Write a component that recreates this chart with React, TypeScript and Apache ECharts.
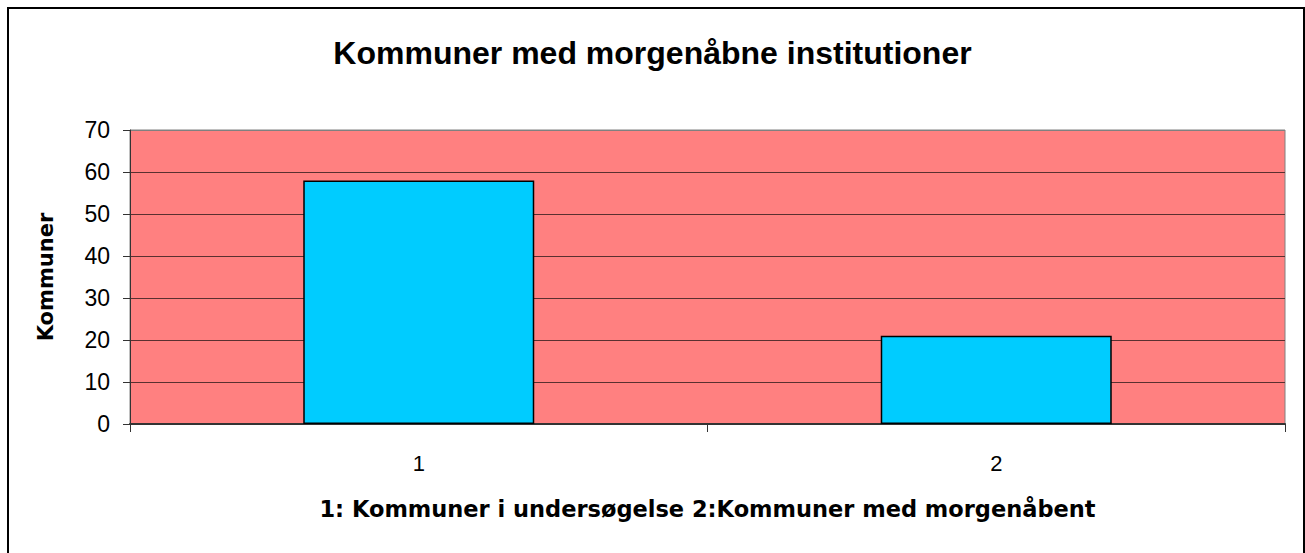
import React, { useEffect, useRef } from "react";
import * as echarts from "echarts";

const titleText = "Kommuner med morgenåbne institutioner";
const categories = ["1", "2"];
const values = [58, 21];
const yAxisName = "Kommuner";
const xAxisName = "1: Kommuner i undersøgelse 2:Kommuner med morgenåbent";

export default function App() {
  const ref = useRef<HTMLDivElement>(null);
  useEffect(() => {
    if (!ref.current) return;
    const chart = echarts.init(ref.current, null, { renderer: "svg" });
    const font = "'Liberation Sans', Arial, sans-serif";
    const wideFont = "'DejaVu Sans', 'Liberation Sans', sans-serif";
    chart.setOption({
      animation: false,
      backgroundColor: "#ffffff",
      textStyle: { fontFamily: font },
      title: {
        text: titleText,
        left: "center",
        top: 32,
        textStyle: { fontFamily: font, fontSize: 32, fontWeight: "bold", color: "#000" },
      },
      graphic: [
        {
          type: "rect",
          shape: { x: 8, y: 8, width: 1296, height: 600 },
          style: { fill: "none", stroke: "#000", lineWidth: 2 },
          silent: true,
          z: 100,
        },
      ],
      grid: {
        left: 130,
        right: 20,
        top: 130,
        bottom: 129,
        show: true,
        backgroundColor: "#FF8080",
        borderColor: "#808080",
        borderWidth: 1,
      },
      xAxis: {
        type: "category",
        data: categories,
        name: xAxisName,
        nameLocation: "middle",
        nameGap: 73,
        nameTextStyle: { fontFamily: wideFont, fontSize: 22.5, fontWeight: "bold", color: "#000" },
        axisLine: { lineStyle: { color: "#333", width: 2 } },
        axisTick: { show: true, length: 8, lineStyle: { color: "#333", width: 1 }, alignWithLabel: false },
        axisLabel: { fontFamily: font, fontSize: 22, color: "#000", margin: 28 },
        splitLine: { show: false },
      },
      yAxis: {
        type: "value",
        min: 0,
        max: 70,
        interval: 10,
        name: yAxisName,
        nameLocation: "middle",
        nameGap: 74,
        nameRotate: 90,
        nameTextStyle: { fontFamily: wideFont, fontSize: 21, fontWeight: "bold", color: "#000" },
        axisLine: { show: true, lineStyle: { color: "#333", width: 1 } },
        axisTick: { show: true, length: 7, lineStyle: { color: "#333", width: 1 } },
        axisLabel: { fontFamily: font, fontSize: 23, color: "#000", margin: 20 },
        splitLine: {
          show: true,
          lineStyle: {
            color: ["#333", "#5a3030", "#5a3030", "#5a3030", "#5a3030", "#5a3030", "#5a3030", "#808080"],
            width: 1,
          },
        },
      },
      series: [
        {
          type: "bar",
          data: values,
          barWidth: "40%",
          itemStyle: { color: "#00CCFF", borderColor: "#000", borderWidth: 1.5 },
        },
      ],
    });
    return () => chart.dispose();
  }, []);
  return (
    <div
      ref={ref}
      style={{ position: "fixed", left: 0, top: 0, width: 1305, height: 553 }}
    />
  );
}
